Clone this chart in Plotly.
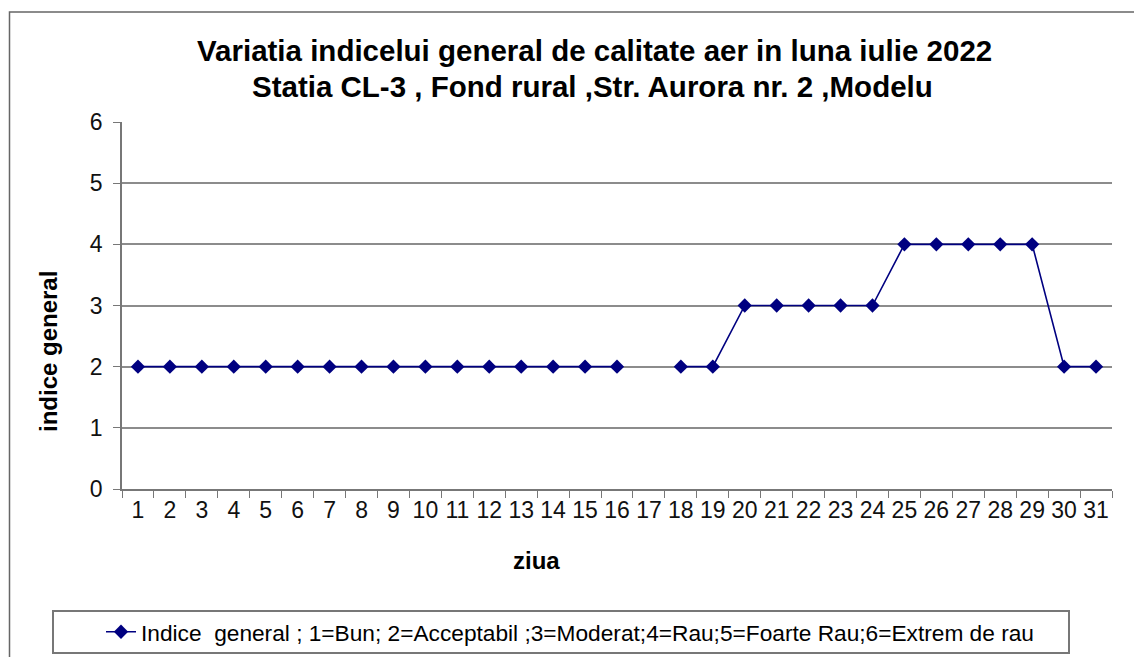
import plotly.graph_objects as go

days = list(range(1, 32))
day_labels = [str(d) for d in days]
indice = [2, 2, 2, 2, 2, 2, 2, 2, 2, 2, 2, 2, 2, 2, 2, 2, None, 2, 2,
          3, 3, 3, 3, 3, 4, 4, 4, 4, 4, 2, 2]
series_name = "Indice  general ; 1=Bun; 2=Acceptabil ;3=Moderat;4=Rau;5=Foarte Rau;6=Extrem de rau"
title_1 = "Variatia indicelui general de calitate aer in luna iulie 2022"
title_2 = "Statia CL-3 , Fond rural ,Str. Aurora nr. 2 ,Modelu"
x_title = "ziua"
y_title = "indice general"
y_ticks = [0, 1, 2, 3, 4, 5, 6]

FONT = "Liberation Sans, Arial, sans-serif"
NAVY = "#000080"
GRID = "#8c8c8c"

W, H = 1142, 657
OFF = 8  # page body margin
# plot area in screen pixels: x 122..1112, y 122..489
L, R, T, B = 122 - OFF, W - (1112 - OFF), 122 - OFF, H - (489 - OFF)
pw, ph = W - L - R, H - T - B


def px(x):
    return (x - OFF - L) / pw


def py(y):
    return (H - B - (y - OFF)) / ph


fig = go.Figure()
fig.add_trace(go.Scatter(
    x=days, y=indice, mode="lines+markers", name=series_name,
    line=dict(color=NAVY, width=1.6),
    marker=dict(symbol="diamond", size=11, color=NAVY),
    connectgaps=False,
))

fig.update_layout(
    width=W, height=H,
    margin=dict(l=L, r=R, t=T, b=B),
    paper_bgcolor="white", plot_bgcolor="white",
    font=dict(family=FONT, color="#000000"),
    showlegend=True,
    legend=dict(x=px(101), xanchor="left", y=py(632), yanchor="middle",
                font=dict(size=22.7, family=FONT), bgcolor="rgba(0,0,0,0)",
                borderwidth=0),
    xaxis=dict(
        range=[0.5, 31.5], tickmode="array", tickvals=days, ticktext=day_labels,
        ticks="", showgrid=False, zeroline=False,
        showline=True, linecolor="#777777", linewidth=1.5,
        tickfont=dict(size=23, family=FONT, color="#111111"),
        minor=dict(tickmode="array", tickvals=[d + 0.5 for d in [0] + days],
                   ticks="outside", ticklen=7, tickcolor="#777777",
                   tickwidth=1.2, showgrid=False),
        fixedrange=True,
    ),
    yaxis=dict(
        range=[0, 6], tickmode="array", tickvals=y_ticks,
        ticks="outside", ticklen=7, tickcolor="#777777", tickwidth=1.2,
        ticklabelstandoff=6,
        showgrid=True, gridcolor=GRID, gridwidth=1.5, zeroline=False,
        showline=True, linecolor="#777777", linewidth=1.5,
        tickfont=dict(size=23, family=FONT, color="#111111"),
        fixedrange=True,
    ),
    shapes=[
        dict(type="rect", xref="paper", yref="paper",
             x0=px(9.5), x1=px(1170), y0=py(690), y1=py(12),
             line=dict(color="#666666", width=1.5), fillcolor="rgba(0,0,0,0)",
             layer="below"),
        dict(type="rect", xref="paper", yref="paper",
             x0=px(53), x1=px(1069), y0=py(653), y1=py(611),
             line=dict(color="#777777", width=2), fillcolor="rgba(0,0,0,0)"),
    ],
    annotations=[
        dict(text="<b>" + title_1 + "</b>", xref="paper", yref="paper",
             x=px(594), y=py(50), xanchor="center", yanchor="middle",
             showarrow=False, font=dict(size=29.5, family=FONT)),
        dict(text="<b>" + title_2 + "</b>", xref="paper", yref="paper",
             x=px(592), y=py(86), xanchor="center", yanchor="middle",
             showarrow=False, font=dict(size=29.5, family=FONT)),
        dict(text="<b>" + x_title + "</b>", xref="paper", yref="paper",
             x=px(536), y=py(560), xanchor="center", yanchor="middle",
             showarrow=False, font=dict(size=24, family=FONT)),
        dict(text="<b>" + y_title + "</b>", xref="paper", yref="paper",
             x=px(48), y=py(352), xanchor="center", yanchor="middle",
             textangle=-90, showarrow=False, font=dict(size=24, family=FONT)),
    ],
)

fig.write_html("out.html")
